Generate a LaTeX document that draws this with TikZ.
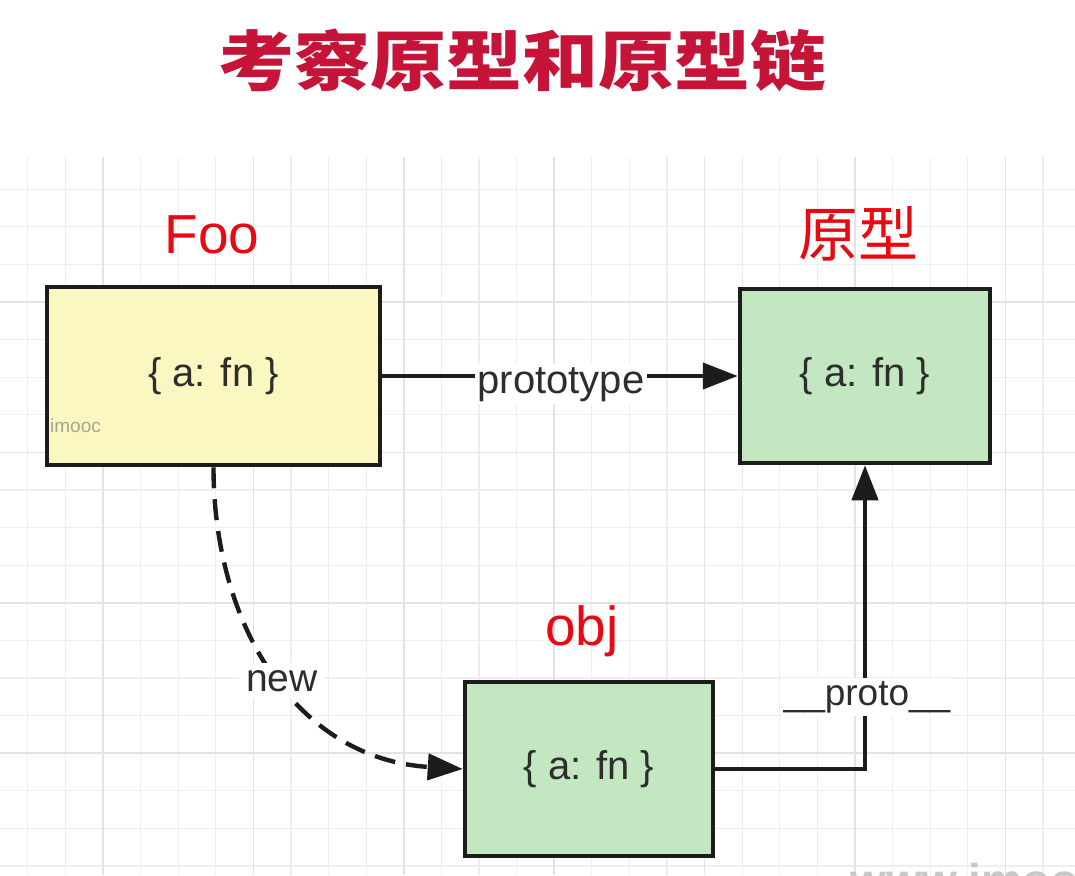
\documentclass[tikz,border=0pt]{standalone}
\usepackage{fontspec}
\setmainfont{Liberation Sans}
\newfontfamily\cjk{Noto Sans CJK SC}
\usetikzlibrary{arrows.meta}
\definecolor{titlered}{RGB}{198,20,56}
\definecolor{labelred}{RGB}{232,10,18}
\definecolor{foofill}{RGB}{250,248,192}
\definecolor{protofill}{RGB}{195,231,192}
\definecolor{edgecol}{RGB}{28,28,28}
\definecolor{textcol}{RGB}{45,45,45}
\definecolor{gridminor}{RGB}{238,238,238}
\definecolor{gridmajor}{RGB}{227,227,227}
\definecolor{wmgray}{RGB}{200,200,200}
\definecolor{smallgray}{RGB}{165,165,150}
\tikzset{
  objbox/.style={draw=edgecol, line width=4.5pt, inner sep=0pt, text=textcol,
    font=\fontsize{40}{48}\selectfont},
  redlabel/.style={text=labelred, inner sep=0pt, anchor=base},
  conn/.style={draw=edgecol, line width=4.4pt, -{Triangle[length=35pt,width=26pt]}},
  newdash/.style={dash pattern=on 21pt off 11pt},
  edgelabel/.style={fill=white, text=textcol, inner sep=3pt, anchor=base,
    font=\fontsize{39}{46}\selectfont},
  minorline/.style={draw=gridminor, line width=1.2pt},
  majorline/.style={draw=gridmajor, line width=1.6pt},
}
\begin{document}
\begin{tikzpicture}[x=1pt,y=-1pt]
\useasboundingbox (0,0) rectangle (1075,875);
\fill[white] (0,0) rectangle (1075,875);
% grid
\foreach \i in {0,...,28} \draw[minorline] ({27.8+37.6*\i},157) -- ({27.8+37.6*\i},875);
\foreach \j in {0,...,18} \draw[minorline] (0,{189.2+37.6*\j}) -- (1075,{189.2+37.6*\j});
\foreach \i in {0,...,6} \draw[majorline] ({103+150.4*\i},157) -- ({103+150.4*\i},875);
\foreach \j in {0,...,3} \draw[majorline] (0,{302+150.4*\j}) -- (1075,{302+150.4*\j});

% title
\node[text=titlered, inner sep=0pt] (title) at (522,60)
  {\scalebox{1}[0.86]{\cjk\bfseries\fontsize{76}{80}\selectfont 考察原型和原型链}};

% boxes
\node[objbox, fill=foofill, minimum width=333pt, minimum height=178pt] (foo) at (213.5,376) {\{ a: fn \}};
\node[objbox, fill=protofill, minimum width=250pt, minimum height=174pt] (proto) at (865,376) {\{ a: fn \}};
\node[objbox, fill=protofill, minimum width=248pt, minimum height=174pt] (obj) at (589,769) {\{ a: fn \}};

% red labels
\node[redlabel, font=\fontsize{55}{60}\selectfont] (foolabel) at (212,253) {Foo};
\node[redlabel, font=\fontsize{60}{66}\selectfont\cjk] (protolabel) at (858,256) {原型};
\node[redlabel, font=\fontsize{55}{60}\selectfont] (objlabel) at (582,645) {obj};

% small text
\node[text=smallgray, inner sep=0pt, anchor=base west, font=\fontsize{19}{22}\selectfont] (imooc) at (50,432) {imooc};

% connectors
\draw[conn] (foo.east) -- (proto.west);
\draw[conn, newdash] (foo.south) .. controls +(0,160) and +(-165,-10) .. (obj.west);
\draw[conn] (obj.east) -| (proto.south);

% connector labels
\node[edgelabel, font=\fontsize{40}{48}\selectfont] (lprototype) at (561,393) {prototype};
\node[edgelabel, inner sep=7pt] (lnew) at (282,691) {new};
\node[edgelabel, font=\fontsize{37}{44}\selectfont] (lproto) at (867,705) {\_\_proto\_\_};

% watermark, cut by the lower edge as in the reference
\begin{scope}
\clip (0,0) rectangle (1075,875);
\node[text=wmgray, inner sep=0pt, anchor=base west, font=\fontsize{46}{50}\selectfont\bfseries] (wm) at (850,896) {www.imooc};
\end{scope}
\end{tikzpicture}
\end{document}
